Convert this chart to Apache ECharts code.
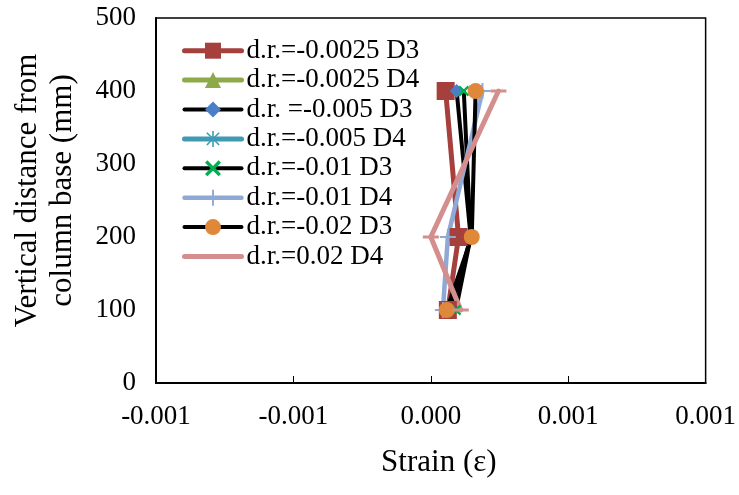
<!DOCTYPE html>
<html>
<head>
<meta charset="utf-8">
<script src="https://cdn.jsdelivr.net/npm/echarts@6/dist/echarts.min.js"></script>
<style>
  html, body { margin: 0; padding: 0; background: #fff; }
  #chart { width: 739px; height: 495px; }
</style>
</head>
<body>
<div id="chart"></div>
<script>
// Gauge heights along the column (mm)
const heights = [400, 200, 100];

// Measured strain at each gauge height, per drift ratio and specimen
const seriesNames = [
  'd.r.=-0.0025 D3',
  'd.r.=-0.0025 D4',
  'd.r. =-0.005 D3',
  'd.r.=-0.005 D4',
  'd.r.=-0.01 D3',
  'd.r.=-0.01 D4',
  'd.r.=-0.02 D3',
  'd.r.=0.02 D4'
];
const strainDr0025D3 = [0.000054, 0.000101, 0.000062];
const strainDr0025D4 = [];
const strainDr005D3 = [0.000094, 0.000145, 0.000073];
const strainDr005D4 = [];
const strainDr01D3 = [0.000120, 0.000145, 0.000091];
const strainDr01D4 = [0.000188, 0.000062, 0.000044];
const strainDr02D3 = [0.000163, 0.000149, 0.000058];
const strainDr02D4 = [0.000246, 0.000000, 0.000109];

const strainSets = [
  strainDr0025D3, strainDr0025D4, strainDr005D3, strainDr005D4,
  strainDr01D3, strainDr01D4, strainDr02D3, strainDr02D4
];

// Marker shapes
const SYM_X = 'path://M0,1.5L1.5,0L5,3.5L8.5,0L10,1.5L6.5,5L10,8.5L8.5,10L5,6.5L1.5,10L0,8.5L3.5,5Z';
const SYM_PLUS = 'path://M4.4,0H5.6V4.4H10V5.6H5.6V10H4.4V5.6H0V4.4H4.4Z';
const SYM_STAR = 'path://M4.5,0H5.5V10H4.5Z M0,4.5H10V5.5H0Z M0.8,1.5L1.5,0.8L9.2,8.5L8.5,9.2Z M8.5,0.8L9.2,1.5L1.5,9.2L0.8,8.5Z';
// horizontal dash inside a square box (degenerate corners keep the box square)
const SYM_DASH = 'path://M0,0L0.01,0Z M0,4H10V6H0Z M0,10L0.01,10Z';

const styles = [
  { line: '#A5403C', width: 5, symbol: 'rect', size: 18, fill: '#A5403C' },
  { line: '#8DAA4B', width: 5, symbol: 'triangle', size: 17, fill: '#8DAA4B' },
  { line: '#000000', width: 4, symbol: 'diamond', size: 14, fill: '#4A7FC8' },
  { line: '#3F9AB4', width: 5, symbol: SYM_STAR, size: 15, fill: '#3F9AB4' },
  { line: '#000000', width: 4, symbol: SYM_X, size: 11, fill: '#00B050' },
  { line: '#8EA9D5', width: 4.5, symbol: SYM_PLUS, size: 16, fill: '#8EA9D5' },
  { line: '#000000', width: 4, symbol: 'circle', size: 16, fill: '#E0883A' },
  { line: '#D48E8D', width: 5, symbol: SYM_DASH, size: 16, fill: '#D48E8D' }
];

function excelRound3(v) {
  const a = Math.round(Math.abs(v) * 1000 + 1e-9) / 1000;
  const s = a.toFixed(3);
  return (v < 0 && a > 0) ? '-' + s : s;
}

const series = seriesNames.map((name, i) => ({
  name: name,
  type: 'line',
  data: strainSets[i].map((s, k) => [s, heights[k]]),
  symbol: styles[i].symbol,
  symbolSize: styles[i].size,
  showAllSymbol: true,
  lineStyle: { color: styles[i].line, width: styles[i].width, cap: 'round', join: 'round' },
  itemStyle: { color: styles[i].fill, borderWidth: 0 },
  emphasis: { disabled: true },
  animation: false
}));

const legendData = seriesNames.map((name, i) => ({
  name: name,
  lineStyle: { width: styles[i].width, cap: 'round' }
}));

const FONT = 'Liberation Serif';

const chart = echarts.init(document.getElementById('chart'), null, { renderer: 'canvas' });
chart.setOption({
  backgroundColor: '#fff',
  textStyle: { fontFamily: FONT },
  grid: {
    left: 156, right: 31, top: 18, bottom: 112,
    show: true, borderColor: '#000', borderWidth: 1.5
  },
  legend: {
    orient: 'vertical',
    left: 177, top: 31,
    itemWidth: 57, itemHeight: 20, itemGap: 0,
    textStyle: { fontFamily: FONT, fontSize: 27, color: '#000', lineHeight: 29.4 },
    data: legendData
  },
  xAxis: {
    type: 'value',
    min: -0.001, max: 0.001, interval: 0.0005,
    name: 'Strain (ε)',
    nameLocation: 'middle',
    nameGap: 64,
    nameTextStyle: { fontFamily: FONT, fontSize: 31, color: '#000', padding: [0, 0, 0, 16] },
    axisLine: { show: true, onZero: false, lineStyle: { color: '#000', width: 2 } },
    axisTick: { show: true, inside: true, length: 7, lineStyle: { color: '#000', width: 1 } },
    axisLabel: {
      fontFamily: FONT, fontSize: 27, color: '#000', margin: 20,
      formatter: v => excelRound3(v)
    },
    splitLine: { show: false }
  },
  yAxis: {
    type: 'value',
    min: 0, max: 500, interval: 100,
    name: 'Vertical distance from\ncolumn base (mm)',
    nameLocation: 'middle',
    nameRotate: 90,
    nameGap: 76,
    nameTextStyle: { fontFamily: FONT, fontSize: 31, color: '#000', lineHeight: 35, padding: [0, 0, 0, 20] },
    axisLine: { show: true, onZero: false, lineStyle: { color: '#000', width: 2 } },
    axisTick: { show: false },
    axisLabel: { fontFamily: FONT, fontSize: 27, color: '#000', margin: 20 },
    splitLine: { show: false }
  },
  series: series
});
</script>
</body>
</html>
